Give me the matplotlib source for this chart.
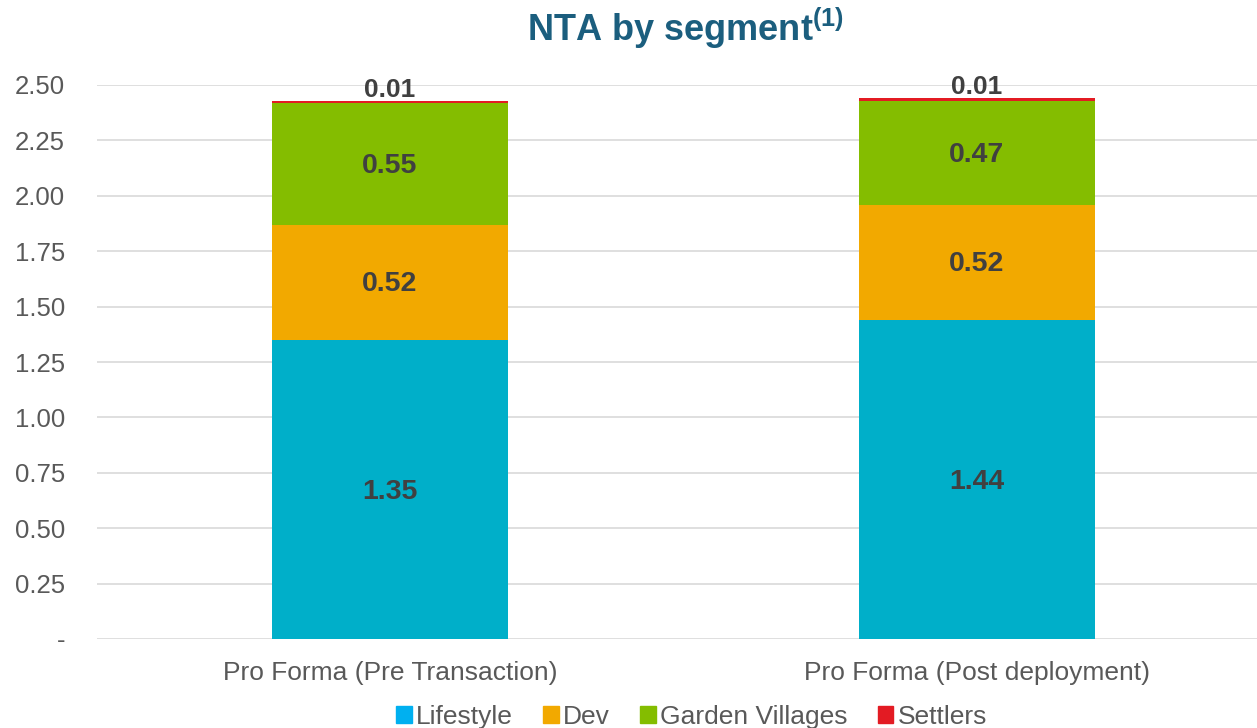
import numpy as np
import matplotlib.pyplot as plt
from matplotlib.patches import Patch

plt.rcParams["font.family"] = ["Liberation Sans", "DejaVu Sans"]
plt.rcParams["mathtext.fontset"] = "custom"
plt.rcParams["mathtext.rm"] = "Liberation Sans"
plt.rcParams["mathtext.bf"] = "Liberation Sans:bold"

categories = ["Pro Forma (Pre Transaction)", "Pro Forma (Post deployment)"]
segments = ["Lifestyle", "Dev", "Garden Villages", "Settlers"]
lifestyle = [1.35, 1.44]
dev = [0.52, 0.52]
garden = [0.55, 0.47]
settlers = [0.01, 0.01]

bar_colors = ["#00AFC9", "#F2A900", "#84BD00", "#E31B23"]
legend_colors = ["#00B0F0", "#F2A900", "#84BD00", "#E31B23"]
yticks = [0, 0.25, 0.5, 0.75, 1.0, 1.25, 1.5, 1.75, 2.0, 2.25, 2.5]

fig = plt.figure(figsize=(12.57, 7.28), dpi=100)
ax = fig.add_axes([97 / 1257, 89 / 728, 1160 / 1257, 554 / 728])

x = np.arange(len(categories))
series = [lifestyle, dev, garden, settlers]
bottom = np.zeros(len(categories))
for i, vals in enumerate(series):
    vals = np.array(vals)
    ax.bar(x, vals, width=0.402, bottom=bottom, color=bar_colors[i], zorder=3)
    for xi, b, v in zip(x, bottom, vals):
        if i == 3:
            ax.text(xi, b + v - 0.005, f"{v:.2f}", ha="center", va="bottom",
                    fontsize=19, fontweight="bold", color="#404040", zorder=4)
        else:
            ax.text(xi, b + v / 2 - 0.01, f"{v:.2f}", ha="center", va="center",
                    fontsize=20.5, fontweight="bold", color="#404040", zorder=4)
    bottom += vals

ax.set_xlim(-0.499, -0.499 + 1160 / 587)
ax.set_ylim(0, 2.5)
ax.set_yticks(yticks)
ax.set_yticklabels(["-"] + [f"{t:.2f}" for t in yticks[1:]])
ax.set_xticks(x)
ax.set_xticklabels(categories)
ax.tick_params(axis="both", length=0, labelsize=18.5, labelcolor="#595959")
ax.tick_params(axis="x", labelsize=19)
ax.tick_params(axis="y", pad=23)
ax.tick_params(axis="x", pad=16)
ax.yaxis.grid(True, color="#D9D9D9", linewidth=1.2, zorder=0)
for s in ax.spines.values():
    s.set_visible(False)

fig.text(0.545, 0.961, "NTA by segment$^{\\mathbf{(1)}}$", ha="center", va="center",
         fontsize=26, fontweight="bold", color="#1B5E7E")

handles = [Patch(color=c, label=l) for c, l in zip(legend_colors, segments)]
fig.legend(handles=handles, loc="lower center", bbox_to_anchor=(0.55, -0.034), ncol=4,
           frameon=False, fontsize=19, handlelength=0.6, handleheight=0.6,
           handletextpad=0.15, columnspacing=1.15, labelcolor="#595959")

fig.savefig("out.png", dpi=100)
